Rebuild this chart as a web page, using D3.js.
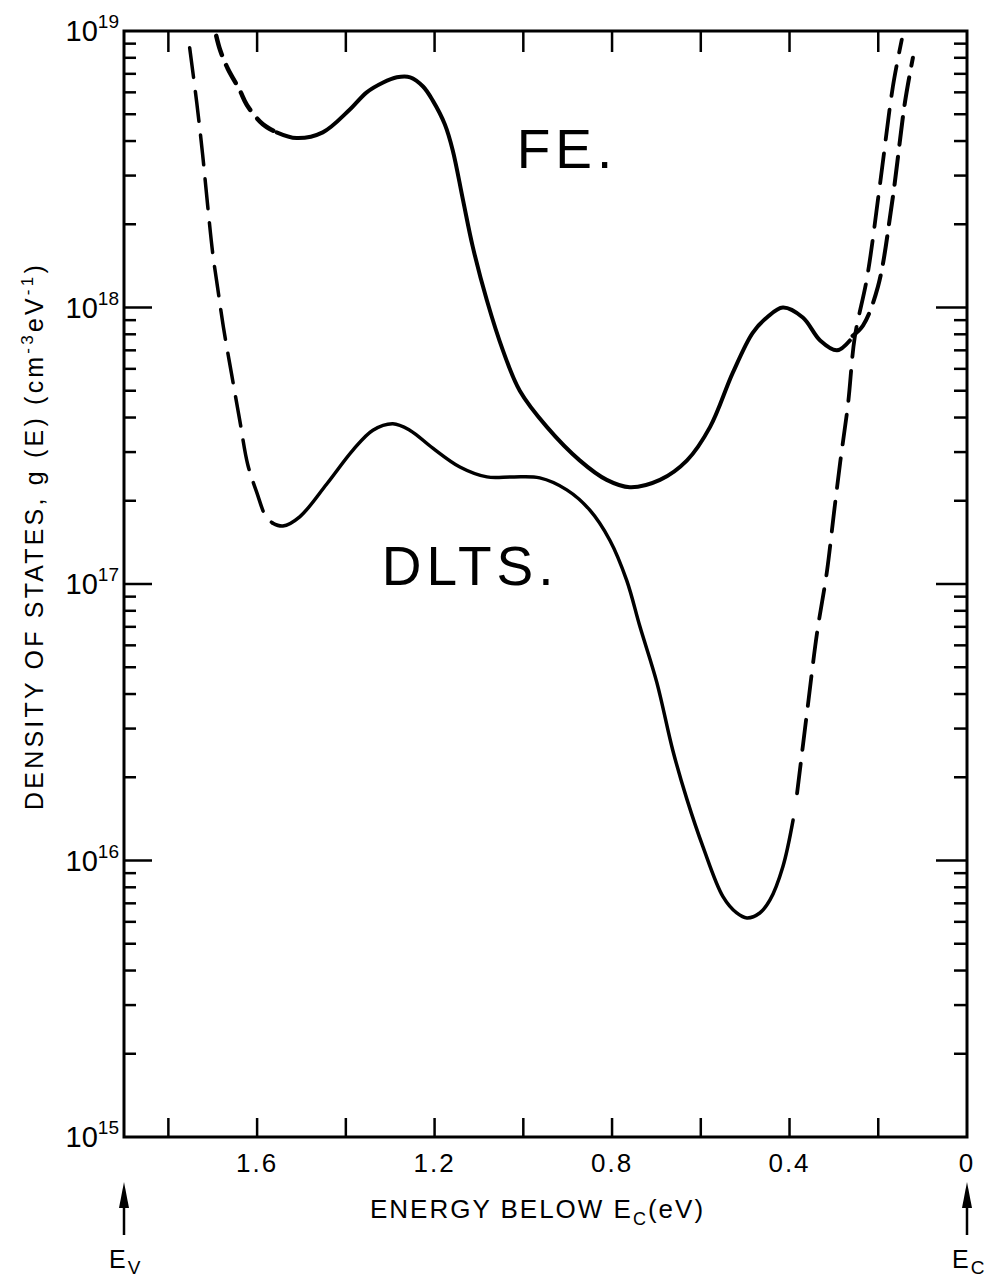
<!DOCTYPE html>
<html>
<head>
<meta charset="utf-8">
<script src="https://cdn.jsdelivr.net/npm/d3@7"></script>
<style>
  html, body { margin: 0; padding: 0; background: #fff; }
  svg { display: block; }
  text { font-family: "Liberation Sans", Arial, sans-serif; fill: #000; }
</style>
</head>
<body>
<svg id="chart" width="993" height="1277"></svg>
<script>
// Density of states g(E) vs. energy below the conduction band edge.
// Each series is a list of [energy below Ec (eV), g(E) (cm^-3 eV^-1)].

// Field-effect (FE) curve: dashed extrapolation near Ev, measured part, dashed extrapolation near Ec
const feNearEv = [
  [1.692, 9.6e18], [1.683, 8.5e18], [1.666, 7.3e18], [1.639, 6.1e18],
  [1.623, 5.4e18], [1.587, 4.6e18], [1.556, 4.3e18]
];
const feMeasured = [
  [1.556, 4.3e18], [1.511, 4.1e18], [1.452, 4.3e18], [1.391, 5.2e18],
  [1.353, 6.0e18], [1.317, 6.5e18], [1.285, 6.8e18], [1.255, 6.8e18],
  [1.226, 6.3e18], [1.204, 5.6e18], [1.177, 4.6e18], [1.159, 3.7e18],
  [1.136, 2.45e18], [1.114, 1.66e18], [1.082, 1.06e18], [1.046, 7.0e17],
  [1.008, 5.0e17], [0.947, 3.7e17], [0.873, 2.8e17], [0.812, 2.38e17],
  [0.760, 2.24e17], [0.692, 2.38e17], [0.631, 2.8e17], [0.579, 3.7e17],
  [0.528, 5.8e17], [0.483, 8.1e17], [0.451, 9.2e17], [0.415, 1.0e18],
  [0.370, 9.2e17], [0.331, 7.6e17], [0.293, 7.0e17], [0.264, 7.6e17]
];
const feNearEc = [
  [0.258, 7.9e17], [0.2345, 8.6e17], [0.2007, 1.19e18], [0.169, 2.39e18],
  [0.140, 5.5e18], [0.122, 8.0e18]
];

// DLTS curve
const dltsNearEv = [
  [1.752, 8.7e18], [1.736, 5.5e18], [1.723, 3.6e18], [1.711, 2.3e18],
  [1.700, 1.57e18], [1.689, 1.18e18], [1.676, 8.5e17], [1.658, 5.8e17],
  [1.639, 3.9e17], [1.621, 2.7e17], [1.601, 2.15e17], [1.580, 1.75e17],
  [1.565, 1.66e17]
];
const dltsMeasured = [
  [1.565, 1.66e17], [1.542, 1.62e17], [1.504, 1.75e17], [1.443, 2.3e17],
  [1.384, 3.05e17], [1.339, 3.6e17], [1.294, 3.8e17], [1.256, 3.6e17],
  [1.204, 3.1e17], [1.143, 2.65e17], [1.082, 2.44e17], [1.024, 2.44e17],
  [0.963, 2.42e17], [0.902, 2.19e17], [0.850, 1.85e17], [0.805, 1.44e17],
  [0.767, 1.03e17], [0.737, 7.0e16], [0.699, 4.4e16], [0.663, 2.5e16],
  [0.631, 1.66e16], [0.595, 1.12e16], [0.550, 7.4e15], [0.519, 6.46e15],
  [0.496, 6.2e15], [0.467, 6.46e15], [0.444, 7.2e15], [0.415, 9.5e15],
  [0.392, 1.4e16]
];
const dltsNearEc = [
  [0.383, 1.75e16], [0.359, 3.6e16], [0.338, 6.65e16], [0.316, 1.1e17],
  [0.300, 1.8e17], [0.286, 2.74e17], [0.268, 4.5e17], [0.253, 7.8e17],
  [0.225, 1.29e18], [0.196, 2.8e18], [0.167, 6.3e18], [0.147, 9.3e18]
];

// Axes
const energyDomain = [1.9, 0];
const densityDomain = [1e15, 1e19];
const energyTicks = [1.8, 1.6, 1.4, 1.2, 1.0, 0.8, 0.6, 0.4, 0.2];
const energyLabels = [1.6, 1.2, 0.8, 0.4, 0];
const decadeExponents = [19, 18, 17, 16, 15];

// Curve labels, placed at [energy, density]
const curveLabels = [
  { text: "FE.", at: [1.015, 3.2e18] },
  { text: "DLTS.", at: [1.319, 9.9e16] }
];

const svg = d3.select("#chart");
const margin = { top: 31, right: 26, bottom: 140, left: 124 };
const W = 993, H = 1277;
const x = d3.scaleLinear().domain(energyDomain).range([margin.left, W - margin.right]);
const y = d3.scaleLog().domain(densityDomain).range([H - margin.bottom, margin.top]);
const x0 = x.range()[0], x1 = x.range()[1], y0 = y.range()[0], y1 = y.range()[1];

// Frame
svg.append("rect")
  .attr("x", x0).attr("y", y1).attr("width", x1 - x0).attr("height", y0 - y1)
  .attr("fill", "none").attr("stroke", "#000").attr("stroke-width", 3);

// Energy ticks on bottom and top, pointing inwards
const tickG = svg.append("g").attr("stroke", "#000").attr("stroke-width", 2.5);
energyTicks.forEach(e => {
  tickG.append("line").attr("x1", x(e)).attr("x2", x(e)).attr("y1", y0).attr("y2", y0 - 19);
  tickG.append("line").attr("x1", x(e)).attr("x2", x(e)).attr("y1", y1).attr("y2", y1 + 21);
});

// Log ticks on left and right, pointing inwards
y.ticks().forEach(v => {
  if (v <= densityDomain[0] || v >= densityDomain[1]) return;
  const mant = Math.round(v / Math.pow(10, Math.floor(Math.log10(v) + 1e-9)));
  const major = mant === 1;
  const lenL = major ? 28 : 12;
  const lenR = major ? 31 : 13;
  tickG.append("line").attr("x1", x0).attr("x2", x0 + lenL).attr("y1", y(v)).attr("y2", y(v));
  tickG.append("line").attr("x1", x1).attr("x2", x1 - lenR).attr("y1", y(v)).attr("y2", y(v));
});

// Energy tick labels
svg.append("g").selectAll("text").data(energyLabels).join("text")
  .attr("x", d => x(d)).attr("y", y0 + 35)
  .attr("text-anchor", "middle")
  .attr("font-size", 26).attr("letter-spacing", 2)
  .text(d => d === 0 ? "0" : d.toFixed(1));

// Decade labels 10^n
const decG = svg.append("g");
decadeExponents.forEach(n => {
  const t = decG.append("text")
    .attr("x", x0 - 5).attr("y", y(Math.pow(10, n)) + 10)
    .attr("text-anchor", "end").attr("font-size", 29);
  t.append("tspan").text("10");
  t.append("tspan").attr("font-size", 19).attr("dy", -13).text(String(n));
});

// Axis titles
const xt = svg.append("text")
  .attr("x", (x0 + x1) / 2 - 8).attr("y", y0 + 81)
  .attr("text-anchor", "middle").attr("font-size", 26).attr("letter-spacing", 2);
xt.append("tspan").text("ENERGY BELOW E");
xt.append("tspan").attr("font-size", 18).attr("dy", 7).text("C");
xt.append("tspan").attr("dy", -7).text("(eV)");

const yt = svg.append("text")
  .attr("transform", `translate(43, 536) rotate(-90)`)
  .attr("text-anchor", "middle").attr("font-size", 25).attr("letter-spacing", 3.2);
yt.append("tspan").text("DENSITY OF STATES, g (E)  (cm");
yt.append("tspan").attr("font-size", 17).attr("dy", -10).text("-3");
yt.append("tspan").attr("dy", 10).text("eV");
yt.append("tspan").attr("font-size", 17).attr("dy", -10).text("-1");
yt.append("tspan").attr("dy", 10).text(")");

// Band edge markers Ev and Ec
function edgeMarker(e, sub) {
  const g = svg.append("g");
  const cx = x(e);
  g.append("line").attr("x1", cx).attr("x2", cx).attr("y1", y0 + 98).attr("y2", y0 + 62)
    .attr("stroke", "#000").attr("stroke-width", 2.5);
  g.append("path")
    .attr("d", `M${cx},${y0 + 45} L${cx - 5},${y0 + 71} L${cx + 5},${y0 + 71} Z`)
    .attr("fill", "#000");
  const t = g.append("text").attr("x", cx - 15).attr("y", y0 + 131).attr("font-size", 25);
  t.append("tspan").text("E");
  t.append("tspan").attr("font-size", 19).attr("dy", 6).attr("dx", 2).text(sub);
}
edgeMarker(energyDomain[0], "V");
edgeMarker(energyDomain[1], "C");

// Curves
const line = d3.line()
  .x(d => x(d[0])).y(d => y(d[1]))
  .curve(d3.curveCatmullRom.alpha(0.5));

const curves = svg.append("g").attr("fill", "none").attr("stroke", "#000")
  .attr("stroke-linecap", "round").attr("stroke-linejoin", "round");

curves.append("path").attr("d", line(feNearEv))
  .attr("stroke-width", 4.5).attr("stroke-dasharray", "20,11");
curves.append("path").attr("d", line(feMeasured)).attr("stroke-width", 4);
curves.append("path").attr("d", line(feNearEc))
  .attr("stroke-width", 4).attr("stroke-dasharray", "28,12");

curves.append("path").attr("d", line(dltsNearEv))
  .attr("stroke-width", 3.5).attr("stroke-dasharray", "30,14");
curves.append("path").attr("d", line(dltsMeasured)).attr("stroke-width", 3.5);
curves.append("path").attr("d", line(dltsNearEc))
  .attr("stroke-width", 3.8).attr("stroke-dasharray", "30,14");

// Curve labels
svg.append("g").selectAll("text").data(curveLabels).join("text")
  .attr("x", d => x(d.at[0])).attr("y", d => y(d.at[1]))
  .attr("font-size", 55).attr("letter-spacing", 5)
  .text(d => d.text);
</script>
</body>
</html>
